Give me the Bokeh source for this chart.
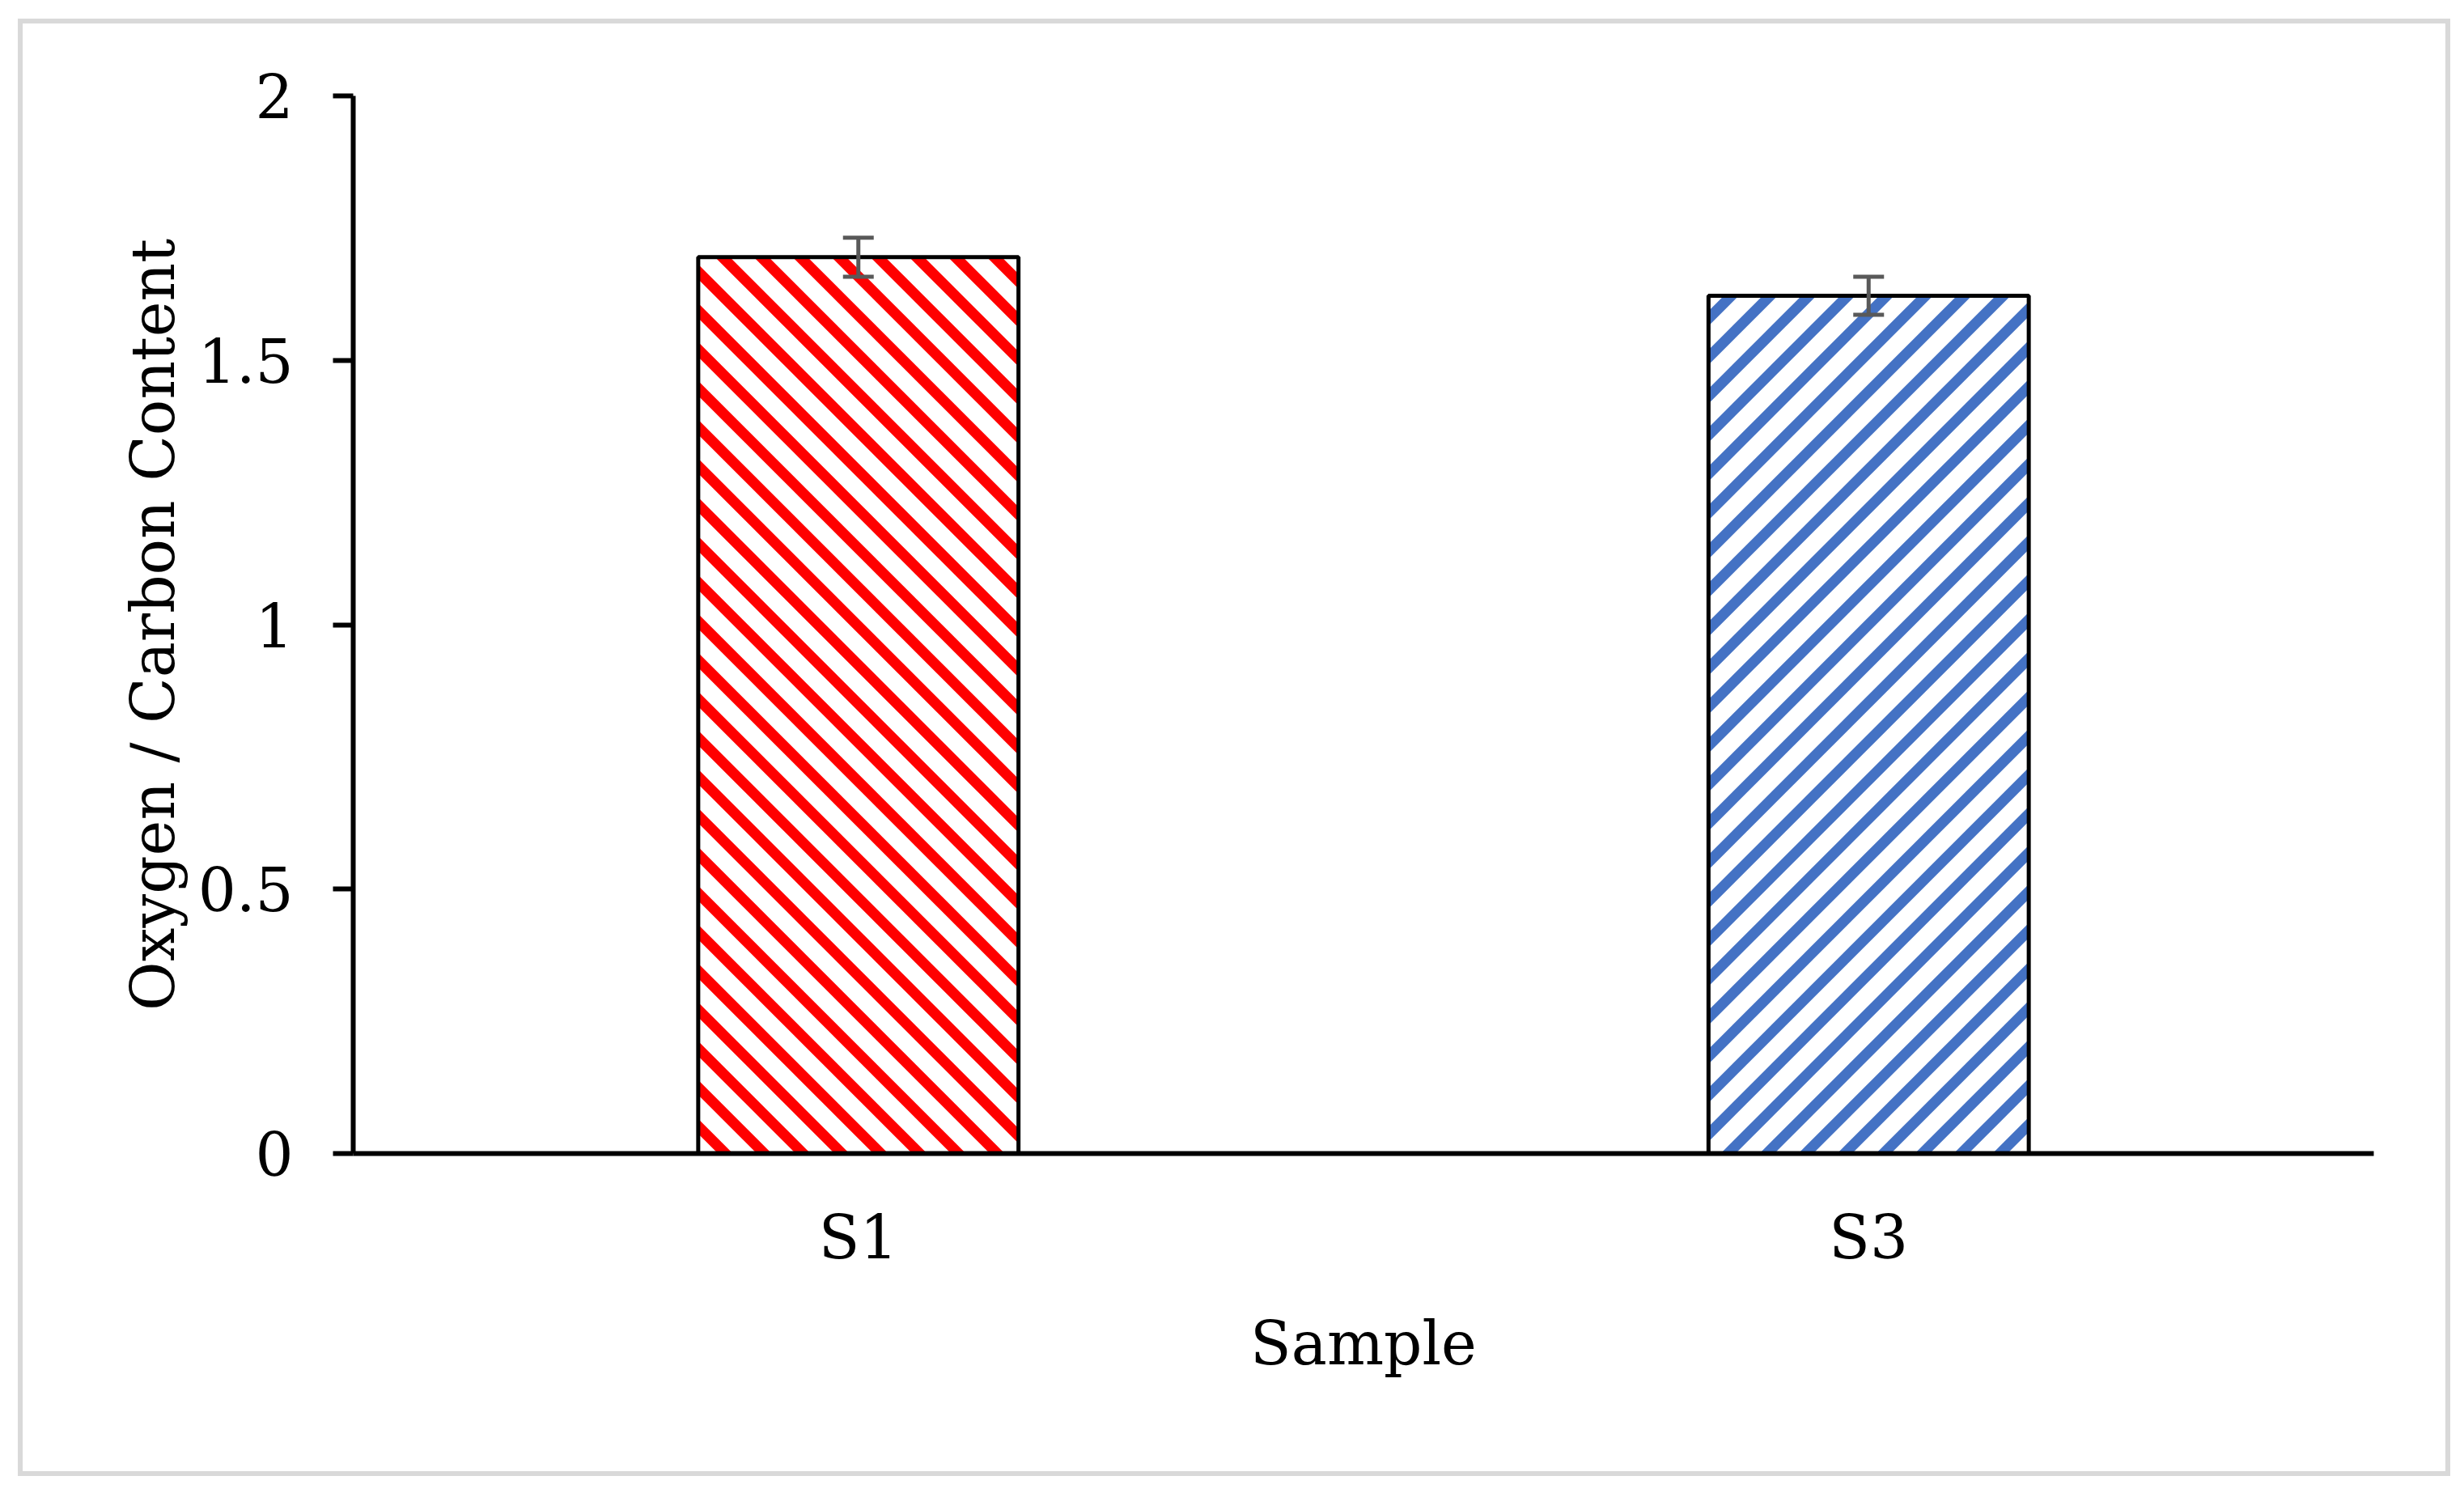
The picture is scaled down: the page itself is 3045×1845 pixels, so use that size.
from bokeh.plotting import figure
from bokeh.models import (ColumnDataSource, FactorRange, Range1d, FixedTicker,
                          Whisker, TeeHead, CanvasTexture)
from bokeh.embed import file_html
from bokeh.resources import INLINE

# ---- data ----
samples = ["S1", "S3"]
oc_ratio = [1.695, 1.622]
oc_err = [0.037, 0.036]
y_ticks = [0, 0.5, 1, 1.5, 2]
y_tick_labels = ["0", "0.5", "1", "1.5", "2"]
x_title = "Sample"
y_title = "Oxygen / Carbon Content"

# ---- styles ----
hatch_patterns = ["diag_down", "diag_up"]
FONT = "DejaVu Serif"
FS = "74px"


def stripe_texture(color, down):
    # 45-degree stripes on a square tile, drawn with the canvas API
    y0, y1 = ("-T", "2*T") if down else ("2*T", "-T")
    return CanvasTexture(code=f"""
const T = 48;
const c = ctx.canvas;
c.width = T; c.height = T;
ctx.clearRect(0, 0, T, T);
ctx.fillStyle = "#ffffff";
ctx.fillRect(0, 0, T, T);
ctx.strokeStyle = "{color}";
ctx.lineWidth = 13;
ctx.lineCap = "square";
ctx.beginPath();
for (let k = -3; k <= 3; k++) {{
  ctx.moveTo(k*T - T, {y0});
  ctx.lineTo(k*T + 2*T, {y1});
}}
ctx.stroke();
""")


textures = {"diag_down": stripe_texture("#ff0000", True),
            "diag_up": stripe_texture("#4472c4", False)}

src = ColumnDataSource(dict(
    samples=samples,
    value=oc_ratio,
    upper=[v + e for v, e in zip(oc_ratio, oc_err)],
    lower=[v - e for v, e in zip(oc_ratio, oc_err)],
    hpat=hatch_patterns,
))

W, H = 2994, 1789
FL, FR, FT, FB = 408, 2905, 89, 1396

p = figure(width=W, height=H, x_range=FactorRange(*samples), y_range=Range1d(0, 2),
           output_backend="svg", toolbar_location=None,
           min_border_left=FL, min_border_right=W - FR,
           min_border_top=FT, min_border_bottom=H - FB)
p.title.visible = False
p.outline_line_color = None
p.grid.visible = False
p.background_fill_color = "white"
p.border_fill_color = "white"
# light-grey chart-area border drawn just outside the canvas
p.styles = {"outline": "6px solid #d9d9d9", "margin-left": "28px", "margin-top": "29px"}

p.vbar(x="samples", top="value", width=0.317, source=src,
       fill_color="white", line_color="black", line_width=5,
       hatch_pattern="hpat", hatch_color="black", hatch_scale=48, hatch_weight=13,
       hatch_extra=textures)

whisk = Whisker(source=src, base="samples", upper="upper", lower="lower",
                line_color="#595959", line_width=5, level="annotation",
                upper_head=TeeHead(size=38, line_color="#595959", line_width=5),
                lower_head=TeeHead(size=38, line_color="#595959", line_width=5))
p.add_layout(whisk)

# y axis
ya = p.yaxis[0]
ya.ticker = FixedTicker(ticks=y_ticks)
ya.major_label_overrides = {t: l for t, l in zip(y_ticks, y_tick_labels)}
ya.minor_tick_line_color = None
ya.major_tick_out = 25
ya.major_tick_in = 0
ya.major_tick_line_width = 6
ya.major_tick_line_color = "black"
ya.axis_line_width = 6
ya.axis_line_color = "black"
ya.major_label_text_font = FONT
ya.major_label_text_font_size = FS
ya.major_label_text_color = "black"
ya.major_label_standoff = 49
ya.axis_label = y_title
ya.axis_label_text_font = FONT
ya.axis_label_text_font_size = FS
ya.axis_label_text_font_style = "normal"
ya.axis_label_text_color = "black"
ya.axis_label_standoff = 10

# x axis
xa = p.xaxis[0]
xa.major_tick_line_color = None
xa.minor_tick_line_color = None
xa.major_tick_out = 0
xa.major_tick_in = 0
xa.axis_line_width = 6
xa.axis_line_color = "black"
xa.major_label_text_font = FONT
xa.major_label_text_font_size = FS
xa.major_label_text_color = "black"
xa.major_label_standoff = 60
xa.axis_label = x_title
xa.axis_label_text_font = FONT
xa.axis_label_text_font_size = FS
xa.axis_label_text_font_style = "normal"
xa.axis_label_text_color = "black"
xa.axis_label_standoff = 42

open("out.html", "w").write(file_html(p, INLINE))
